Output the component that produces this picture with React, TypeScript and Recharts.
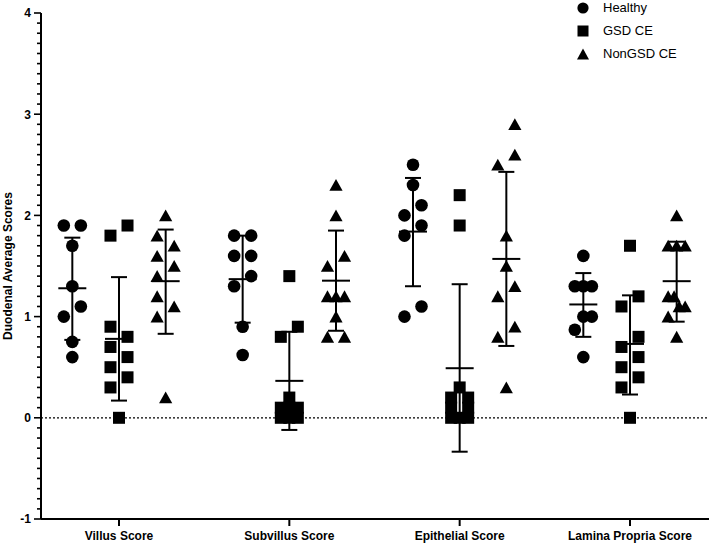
import React from 'react';
import { ScatterChart, Scatter, XAxis, YAxis, ErrorBar, ReferenceLine, Legend } from 'recharts';

const categories = ['Villus Score', 'Subvillus Score', 'Epithelial Score', 'Lamina Propria Score'];
const groupNames = ['Healthy', 'GSD CE', 'NonGSD CE'];
const yMajorTicks = [-1, 0, 1, 2, 3, 4];

// individual scores per category (Villus, Subvillus, Epithelial, Lamina Propria)
const healthyValues = [
  [1.9, 1.9, 1.7, 1.3, 1.1, 1.0, 0.75, 0.6],
  [1.8, 1.8, 1.6, 1.6, 1.4, 1.3, 0.9, 0.62],
  [2.5, 2.3, 2.1, 2.0, 1.9, 1.8, 1.1, 1.0],
  [1.6, 1.3, 1.3, 1.3, 1.0, 1.0, 0.87, 0.6],
];
const healthySides = [
  [-1, 1, 0, 0, 1, -1, 0, 0],
  [-1, 1, -1, 1, 1, -1, 0, 0],
  [0, 0, 1, -1, 1, -1, 1, -1],
  [0, -1, 0, 1, 0, 1, -1, 0],
];
const gsdValues = [
  [1.9, 1.8, 0.9, 0.8, 0.7, 0.6, 0.5, 0.4, 0.3, 0],
  [1.4, 0.9, 0.8, 0.2, 0.1, 0.1, 0.1, 0, 0, 0],
  [2.2, 1.9, 0.3, 0.2, 0.2, 0.1, 0.1, 0, 0, 0],
  [1.7, 1.2, 1.1, 0.8, 0.7, 0.6, 0.5, 0.4, 0.3, 0],
];
const gsdSides = [
  [1, -1, -1, 1, -1, 1, -1, 1, -1, 0],
  [0, 1, -1, 0, -1, 1, 0, -1, 1, 0],
  [0, 0, 0, -1, 1, -1, 1, -1, 0, 1],
  [0, 1, -1, 1, -1, 1, -1, 1, -1, 0],
];
const nonGsdValues = [
  [2.0, 1.8, 1.7, 1.6, 1.5, 1.4, 1.2, 1.1, 1.0, 0.2],
  [2.3, 2.0, 1.6, 1.5, 1.2, 1.2, 1.2, 1.0, 0.8, 0.8],
  [2.9, 2.6, 2.5, 1.8, 1.5, 1.3, 1.2, 0.9, 0.8, 0.3],
  [2.0, 1.7, 1.7, 1.7, 1.2, 1.2, 1.1, 1.1, 1.0, 0.8],
];
const nonGsdSides = [
  [0, -1, 1, -1, 1, -1, -1, 1, -1, 0],
  [0, 0, 1, -1, -1, 0, 1, 0, -1, 1],
  [1, 1, -1, 0, 0, 1, -1, 1, -1, 0],
  [0, -1, 0, 1, -1, -0.3, 0.3, 1, -1, 0],
];

// mean with SD limits
const healthyMean = [1.28, 1.37, 1.84, 1.12];
const healthyLow = [0.77, 0.94, 1.3, 0.8];
const healthyHigh = [1.78, 1.8, 2.37, 1.43];
const gsdMean = [0.78, 0.365, 0.49, 0.73];
const gsdLow = [0.17, -0.12, -0.335, 0.23];
const gsdHigh = [1.39, 0.85, 1.32, 1.21];
const nonGsdMean = [1.35, 1.355, 1.57, 1.35];
const nonGsdLow = [0.83, 0.86, 0.71, 0.95];
const nonGsdHigh = [1.86, 1.85, 2.43, 1.74];

const GROUP_SHIFT = [-0.274, 0, 0.274];
const JITTER = 0.05;
const AXIS_X = 41;
const FONT = '"Liberation Sans", Arial, Helvetica, sans-serif';

const buildPoints = (values: number[][], sides: number[][], g: number) =>
  values.flatMap((arr, ci) =>
    arr.map((v, i) => ({ x: ci + 1 + GROUP_SHIFT[g] + sides[ci][i] * JITTER, y: v }))
  );

const buildStats = (mean: number[], low: number[], high: number[], g: number) =>
  mean.map((m, ci) => ({ x: ci + 1 + GROUP_SHIFT[g], y: m, err: [m - low[ci], high[ci] - m] }));

const healthyPoints = buildPoints(healthyValues, healthySides, 0);
const gsdPoints = buildPoints(gsdValues, gsdSides, 1);
const nonGsdPoints = buildPoints(nonGsdValues, nonGsdSides, 2);
const healthyStats = buildStats(healthyMean, healthyLow, healthyHigh, 0);
const gsdStats = buildStats(gsdMean, gsdLow, gsdHigh, 1);
const nonGsdStats = buildStats(nonGsdMean, nonGsdLow, nonGsdHigh, 2);

const yTicks: number[] = [];
for (let i = 0; i <= 50; i++) yTicks.push(Math.round((-1 + i * 0.1) * 10) / 10);

const CircleShape = (p: any) => <circle cx={p.cx} cy={p.cy} r={6.3} fill="#000" />;
const SquareShape = (p: any) => <rect x={p.cx - 6} y={p.cy - 6} width={12} height={12} fill="#000" />;
const TriangleShape = (p: any) => (
  <polygon
    points={`${p.cx},${p.cy - 6} ${p.cx + 6.6},${p.cy + 5.8} ${p.cx - 6.6},${p.cy + 5.8}`}
    fill="#000"
  />
);
const MeanShape = (p: any) => (
  <line x1={p.cx - 14} x2={p.cx + 14} y1={p.cy} y2={p.cy} stroke="#000" strokeWidth={2} />
);

const YTick = (props: any) => {
  const { y, payload } = props;
  const v = payload.value;
  const major = yMajorTicks.some((t) => Math.abs(t - v) < 1e-6);
  return (
    <g>
      <line x1={AXIS_X - (major ? 7 : 4)} x2={AXIS_X} y1={y} y2={y} stroke="#000" strokeWidth={1.6} />
      {major && (
        <text x={AXIS_X - 10} y={y} dy="0.36em" textAnchor="end" fontWeight="bold" fontSize={12} fill="#000" fontFamily={FONT}>
          {Math.round(v)}
        </text>
      )}
    </g>
  );
};

const legendIcons = [
  <circle cx={8} cy={8} r={5.6} fill="#000" />,
  <rect x={2.5} y={2.5} width={11} height={11} fill="#000" />,
  <polygon points="8,2.5 14,13.5 2,13.5" fill="#000" />,
];

const LegendContent = () => (
  <div style={{ fontFamily: FONT, fontSize: 13, color: '#000' }}>
    {groupNames.map((name, i) => (
      <div key={name} style={{ display: 'flex', alignItems: 'center', height: 23 }}>
        <svg width={16} height={16} style={{ display: 'block' }}>
          {legendIcons[i]}
        </svg>
        <span style={{ marginLeft: 12 }}>{name}</span>
      </div>
    ))}
  </div>
);

export default function App() {
  return (
    <div style={{ position: 'absolute', left: 0, top: 0, width: 709, height: 544, background: '#fff' }}>
      <ScatterChart width={709} height={544} margin={{ top: 13, right: 0, bottom: 0, left: 0 }} style={{ fontFamily: FONT }}>
        <XAxis
          type="number"
          dataKey="x"
          domain={[0.5421, 4.4638]}
          ticks={[1, 2, 3, 4]}
          allowDataOverflow
          interval={0}
          height={25}
          tickFormatter={(v: number) => categories[Math.round(v) - 1]}
          tick={{ fill: '#000', fontWeight: 'bold', fontSize: 12, fontFamily: FONT }}
          tickSize={7}
          tickMargin={5}
          tickLine={{ stroke: '#000', strokeWidth: 2 }}
          axisLine={{ stroke: '#000', strokeWidth: 2 }}
        />
        <YAxis
          type="number"
          dataKey="y"
          domain={[-1, 4]}
          ticks={yTicks}
          interval={0}
          allowDataOverflow
          width={41}
          tickSize={0}
          tickMargin={0}
          tickLine={false}
          tick={<YTick />}
          axisLine={{ stroke: '#000', strokeWidth: 2 }}
          label={{
            content: (lp: any) => {
              const vb = lp.viewBox || { y: 13, height: 506 };
              const cy = vb.y + vb.height / 2;
              return (
                <text
                  x={12}
                  y={cy}
                  transform={`rotate(-90, 12, ${cy})`}
                  textAnchor="middle"
                  fontWeight="bold"
                  fontSize={12}
                  fill="#000"
                  fontFamily={FONT}
                >
                  Duodenal Average Scores
                </text>
              );
            },
          }}
        />
        <ReferenceLine y={0} stroke="#000" strokeWidth={1.2} strokeDasharray="2 2" />
        <Legend
          layout="horizontal"
          verticalAlign="middle"
          align="center"
          wrapperStyle={{ position: 'absolute', top: -4, left: 575, width: 130 }}
          content={() => <LegendContent />}
        />
        <Scatter name="Healthy" data={healthyPoints} shape={CircleShape} isAnimationActive={false} legendType="circle" />
        <Scatter name="GSD CE" data={gsdPoints} shape={SquareShape} isAnimationActive={false} legendType="square" />
        <Scatter name="NonGSD CE" data={nonGsdPoints} shape={TriangleShape} isAnimationActive={false} legendType="triangle" />
        <Scatter name="Healthy mean" data={healthyStats} shape={MeanShape} isAnimationActive={false} legendType="none">
          <ErrorBar dataKey="err" direction="y" width={8} stroke="#000" strokeWidth={2} isAnimationActive={false} />
        </Scatter>
        <Scatter name="GSD CE mean" data={gsdStats} shape={MeanShape} isAnimationActive={false} legendType="none">
          <ErrorBar dataKey="err" direction="y" width={8} stroke="#000" strokeWidth={2} isAnimationActive={false} />
        </Scatter>
        <Scatter name="NonGSD CE mean" data={nonGsdStats} shape={MeanShape} isAnimationActive={false} legendType="none">
          <ErrorBar dataKey="err" direction="y" width={8} stroke="#000" strokeWidth={2} isAnimationActive={false} />
        </Scatter>
      </ScatterChart>
    </div>
  );
}
